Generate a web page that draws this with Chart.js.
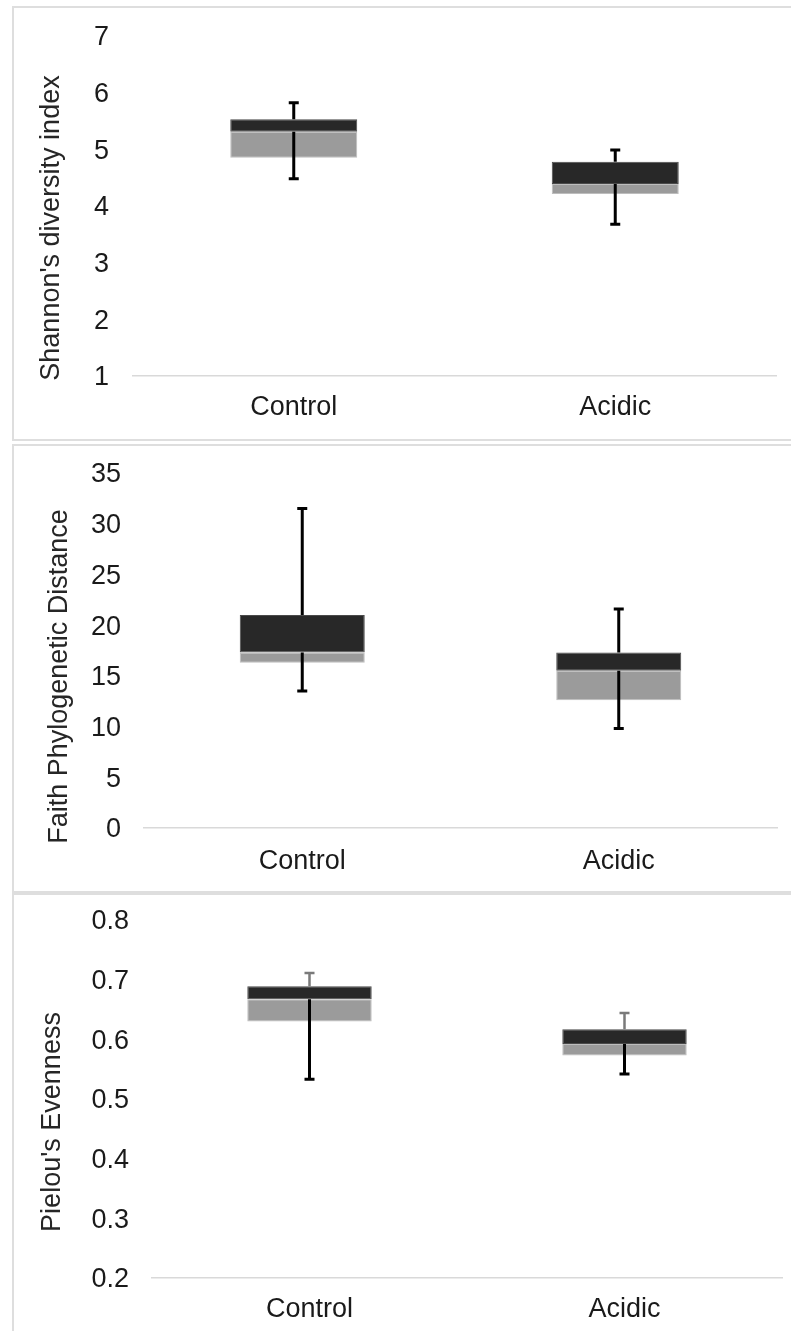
<!DOCTYPE html>
<html>
<head>
<meta charset="utf-8">
<script src="https://cdn.jsdelivr.net/npm/chart.js@4.4.0/dist/chart.umd.min.js"></script>
<style>
  html, body { margin: 0; padding: 0; background: #fff; overflow: hidden; }
  .panel { position: absolute; left: 12px; width: 777px; border: 2px solid #dedede; background: #fff; }
  .panel canvas { display: block; }
</style>
</head>
<body>
<div class="panel" id="p1" style="top:6px;height:431px;"><canvas id="shannon_chart"></canvas></div>
<div class="panel" id="p2" style="top:444px;height:445px;"><canvas id="faith_chart"></canvas></div>
<div class="panel" id="p3" style="top:893px;height:446px;"><canvas id="pielou_chart"></canvas></div>
<script>
// categories
const categories = ['Control', 'Acidic'];

// Shannon's diversity index
const shannonMin = [4.48, 3.68];
const shannonQ1 = [4.85, 4.21];
const shannonMedian = [5.31, 4.39];
const shannonQ3 = [5.53, 4.78];
const shannonMax = [5.82, 4.99];
const shannonTicks = [1, 7, 1];

// Faith Phylogenetic Distance
const faithMin = [13.5, 9.8];
const faithQ1 = [16.3, 12.6];
const faithMedian = [17.3, 15.5];
const faithQ3 = [21.0, 17.3];
const faithMax = [31.5, 21.6];
const faithTicks = [0, 35, 5];

// Pielou's Evenness
const pielouMin = [0.533, 0.542];
const pielouQ1 = [0.630, 0.573];
const pielouMedian = [0.667, 0.592];
const pielouQ3 = [0.689, 0.617];
const pielouMax = [0.711, 0.644];
const pielouTicks = [0.2, 0.8, 0.1];

const FONT = "'Liberation Sans', Arial, sans-serif";

// draws the error bars (whiskers) through the scales
const whiskerPlugin = {
    id: 'whiskers',
    afterDatasetsDraw(chart, args, o) {
        const ctx = chart.ctx, xs = chart.scales.x, ys = chart.scales.y;
        const seg = function(px, from, to, color, width) {
            const y1 = ys.getPixelForValue(from), y2 = ys.getPixelForValue(to);
            ctx.strokeStyle = color;
            ctx.lineWidth = width;
            ctx.beginPath();
            ctx.moveTo(px, y1);
            ctx.lineTo(px, y2);
            ctx.moveTo(px - 5, y2);
            ctx.lineTo(px + 5, y2);
            ctx.stroke();
        };
        ctx.save();
        o.min.forEach(function(v, i) {
            const px = xs.getPixelForValue(i);
            seg(px, o.median[i], o.min[i], '#000', 3);
            seg(px, o.q3[i], o.max[i], o.upColor, o.upWidth);
        });
        ctx.restore();
    }
};

// rotated y axis title, a little below the middle like the original
const sideTitlePlugin = {
    id: 'sideTitle',
    afterDraw(chart, args, o) {
        const ctx = chart.ctx, a = chart.chartArea;
        ctx.save();
        ctx.translate(o.x, (a.top + a.bottom) / 2 + o.shift);
        ctx.rotate(-Math.PI / 2);
        ctx.font = '27px ' + FONT;
        ctx.fillStyle = '#262626';
        ctx.textAlign = 'center';
        ctx.textBaseline = 'middle';
        ctx.fillText(o.text, 0, 0);
        ctx.restore();
    }
};

var makeBox = function(id, title, lo, q1, med, q3, hi, ticks, lay) {
    const ctx = document.getElementById(id).getContext('2d');
    new Chart(ctx, {
        type: 'bar',
        data: {
            labels: categories,
            datasets: [{
                data: categories.map(function(c, i) { return [q1[i], med[i]]; }),
                backgroundColor: '#9b9b9b',
                borderColor: '#bdbdbd',
                borderWidth: 1,
                borderSkipped: false
            }, {
                data: categories.map(function(c, i) { return [med[i], q3[i]]; }),
                backgroundColor: '#282828',
                borderColor: '#4a4a4a',
                borderWidth: 1,
                borderSkipped: false
            }]
        },
        options: {
            responsive: true,
            maintainAspectRatio: false,
            animation: false,
            events: [],
            grouped: false,
            categoryPercentage: 1,
            barPercentage: 0.395,
            layout: { padding: { left: 0, top: lay.top, right: lay.right, bottom: 0 } },
            plugins: {
                legend: { display: false },
                tooltip: { enabled: false },
                whiskers: { min: lo, median: med, q3: q3, max: hi, upColor: lay.upColor, upWidth: lay.upWidth },
                sideTitle: { text: title, x: lay.titleX, shift: lay.titleShift }
            },
            scales: {
                x: {
                    grid: { display: false, drawTicks: false },
                    border: { display: true, color: '#d9d9d9', width: 1.5 },
                    ticks: { color: '#1a1a1a', padding: lay.xPad, font: { family: FONT, size: 27 } },
                    afterFit: function(s) { s.height = 63; s.paddingLeft = 0; s.paddingRight = 0; }
                },
                y: {
                    min: ticks[0],
                    max: ticks[1],
                    grid: { display: false, drawTicks: false },
                    border: { display: false },
                    ticks: {
                        stepSize: ticks[2],
                        color: '#1a1a1a',
                        padding: lay.yPad,
                        labelOffset: 2,
                        font: { family: FONT, size: 27 },
                        callback: function(v) { return ticks[2] < 1 ? v.toFixed(1) : v; }
                    },
                    afterFit: function(s) { s.width = lay.left; s.paddingTop = 0; s.paddingBottom = 0; }
                }
            }
        },
        plugins: [whiskerPlugin, sideTitlePlugin]
    });
};

makeBox('shannon_chart', "Shannon's diversity index", shannonMin, shannonQ1, shannonMedian, shannonQ3, shannonMax, shannonTicks,
    { top: 28, right: 15, left: 119, titleX: 38, titleShift: 22, yPad: 24, xPad: 15, upColor: '#000', upWidth: 3 });
makeBox('faith_chart', 'Faith Phylogenetic Distance', faithMin, faithQ1, faithMedian, faithQ3, faithMax, faithTicks,
    { top: 27, right: 14, left: 130, titleX: 45.5, titleShift: 26, yPad: 23, xPad: 17, upColor: '#000', upWidth: 3 });
makeBox('pielou_chart', "Pielou's Evenness", pielouMin, pielouQ1, pielouMedian, pielouQ3, pielouMax, pielouTicks,
    { top: 25, right: 9, left: 138, titleX: 38.5, titleShift: 23, yPad: 23, xPad: 15, upColor: '#7a7a7a', upWidth: 2.5 });
</script>
</body>
</html>
